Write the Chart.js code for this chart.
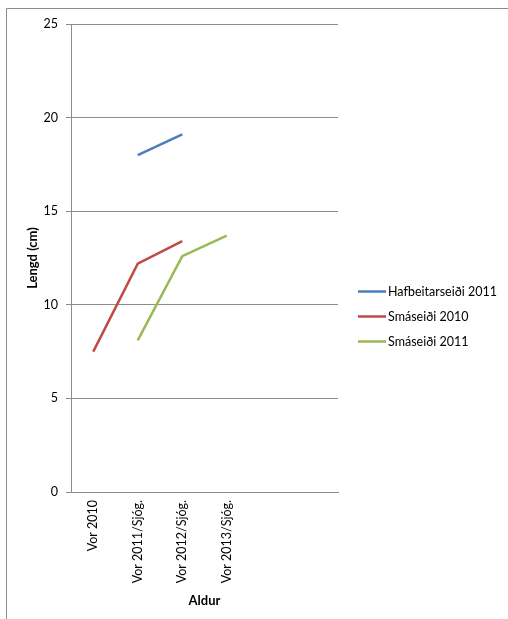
<!DOCTYPE html>
<html>
<head>
<meta charset="utf-8">
<script src="https://cdn.jsdelivr.net/npm/chart.js@4/dist/chart.umd.min.js"></script>
<style>
  html, body { margin: 0; padding: 0; background: #fff; }
  #wrap { width: 508px; height: 619px; position: relative; }
</style>
</head>
<body>
<div id="wrap"><canvas id="c" width="508" height="619"></canvas></div>
<script>
// Age categories (the last two slots are left empty)
const categories = ['Vor 2010', 'Vor 2011/Sjóg.', 'Vor 2012/Sjóg.', 'Vor 2013/Sjóg.', '', ''];

// Mean length (cm) per group
const hafbeitarseidi2011 = [null, 18.0, 19.1, null, null, null];
const smaseidi2010 = [7.5, 12.2, 13.4, null, null, null];
const smaseidi2011 = [null, 8.1, 12.6, 13.7, null, null];

const seriesNames = ['Hafbeitarseiði 2011', 'Smáseiði 2010', 'Smáseiði 2011'];
const seriesColors = ['#4A7EBB', '#BE4B48', '#98B954'];

const yTicks = [0, 5, 10, 15, 20, 25];

const FONT = 'Lato, "Open Sans", sans-serif';

// Outer frame (top and left edges only) and a legend drawn at the right
const framePlugin = {
  id: 'frame',
  beforeDraw(chart) {
    const ctx = chart.ctx;
    ctx.save();
    ctx.fillStyle = '#fff';
    ctx.fillRect(0, 0, chart.width, chart.height);
    ctx.strokeStyle = '#8c8c8c';
    ctx.lineWidth = 1;
    ctx.beginPath();
    ctx.moveTo(6.5, chart.height);
    ctx.lineTo(6.5, 8.5);
    ctx.lineTo(chart.width, 8.5);
    ctx.stroke();
    ctx.restore();
  },
  afterDraw(chart) {
    const ctx = chart.ctx;
    ctx.save();
    ctx.font = '12.5px ' + FONT;
    ctx.textBaseline = 'middle';
    ctx.fillStyle = '#000';
    chart.data.datasets.forEach((ds, i) => {
      const y = 291.5 + i * 25;
      ctx.strokeStyle = ds.borderColor;
      ctx.lineWidth = 2.5;
      ctx.beginPath();
      ctx.moveTo(358, y);
      ctx.lineTo(386, y);
      ctx.stroke();
      ctx.fillText(ds.label, 388, y);
    });
    ctx.restore();
  }
};

const datasets = [hafbeitarseidi2011, smaseidi2010, smaseidi2011].map((d, i) => ({
  label: seriesNames[i],
  data: d,
  borderColor: seriesColors[i],
  backgroundColor: seriesColors[i],
  borderWidth: 2.5,
  pointRadius: 0,
  pointHoverRadius: 0,
  tension: 0,
  spanGaps: false,
  fill: false
}));

new Chart(document.getElementById('c'), {
  type: 'line',
  data: { labels: categories, datasets },
  plugins: [framePlugin],
  options: {
    responsive: false,
    animation: false,
    devicePixelRatio: 1,
    layout: { padding: { top: 24, right: 170, bottom: 0, left: 0 } },
    plugins: {
      legend: { display: false },
      tooltip: { enabled: false }
    },
    scales: {
      x: {
        offset: true,
        grid: { display: true, drawOnChartArea: false, drawTicks: false },
        border: { display: true, color: '#8c8c8c', width: 1 },
        ticks: {
          autoSkip: false,
          maxRotation: 90,
          minRotation: 90,
          padding: 8,
          color: '#000',
          font: { family: FONT, size: 12.5 }
        },
        title: {
          display: true,
          text: 'Aldur',
          color: '#000',
          font: { family: FONT, size: 13, weight: 'bold' },
          padding: { top: 0, bottom: 10 }
        },
        afterFit(scale) { scale.height = 127; }
      },
      y: {
        min: 0,
        max: 25,
        afterBuildTicks(scale) { scale.ticks = yTicks.map(v => ({ value: v })); },
        grid: { color: '#8c8c8c', lineWidth: 1, tickLength: 5, drawTicks: true },
        border: { display: true, color: '#8c8c8c', width: 1 },
        ticks: {
          padding: 8,
          color: '#000',
          font: { family: FONT, size: 12.5 }
        },
        title: {
          display: true,
          text: 'Lengd (cm)',
          color: '#000',
          font: { family: FONT, size: 13, weight: 'bold' },
          padding: { top: 25, bottom: 0 }
        },
        afterFit(scale) { scale.width = 71; }
      }
    }
  }
});
</script>
</body>
</html>
